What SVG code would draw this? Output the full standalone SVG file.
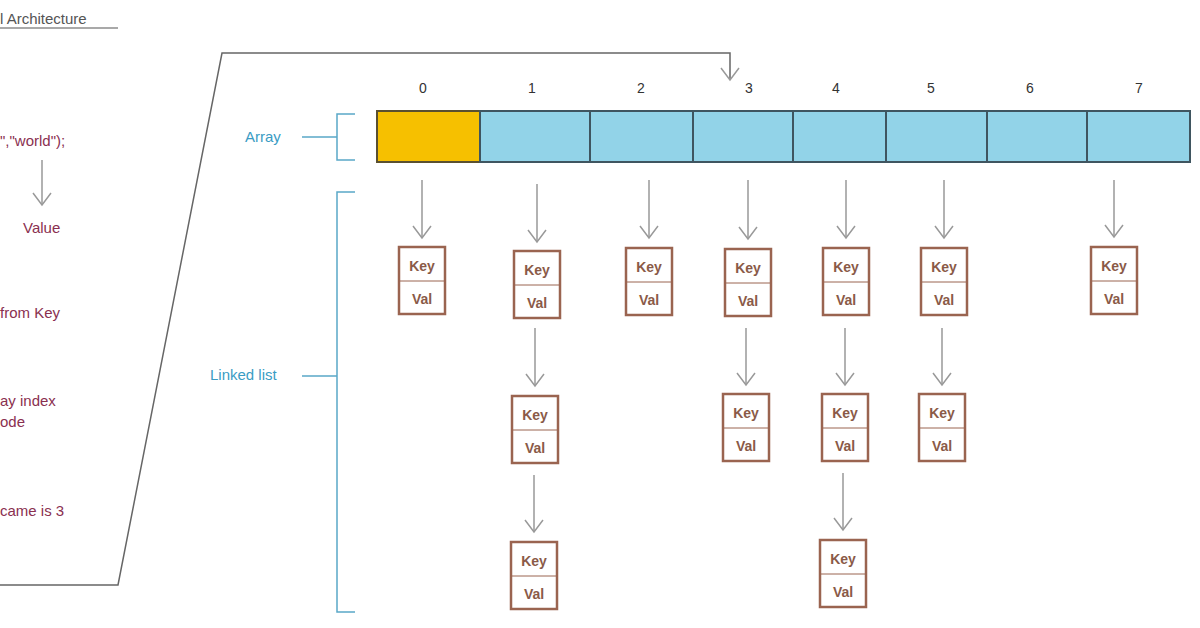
<svg xmlns="http://www.w3.org/2000/svg" width="1200" height="628" viewBox="0 0 1200 628">
<defs>
<style>
.t{font-family:"Liberation Sans",Arial,sans-serif}
.l{fill:#8a3050;font-size:15px}
.b{fill:#3a9cc4;font-size:15px}
.n{fill:#333;font-size:14px;text-anchor:middle}
.cell{fill:#92d3e8;stroke:#3f5560;stroke-width:2}
.nb{fill:#fff;stroke:#9a6450;stroke-width:2.5}
.nt{fill:#8a5a48;font-size:14px;text-anchor:middle;font-weight:bold}
.ar{stroke:#999;stroke-width:1.5;fill:none}
.br{stroke:#5aa8c8;stroke-width:1.5;fill:none}
</style>
<marker id="v" viewBox="0 0 20 20" refX="18" refY="10" markerWidth="20" markerHeight="20" markerUnits="userSpaceOnUse" orient="auto">
<path d="M6 1 L18 10 L6 19" fill="none" stroke="#999" stroke-width="1.5"/>
</marker>
</defs>
<rect width="1200" height="628" fill="#fff"/>
<g class="t">
<text x="0" y="24" font-size="15" fill="#555">l Architecture</text>
<line x1="0" y1="28" x2="118" y2="28" stroke="#555" stroke-width="1.2"/>
<text class="l" x="0" y="146">","world");</text>
<text class="l" x="23" y="233">Value</text>
<text class="l" x="0" y="318">from Key</text>
<text class="l" x="0" y="406">ay index</text>
<text class="l" x="0" y="427">ode</text>
<text class="l" x="0" y="516">came is 3</text>
<text class="b" x="245" y="142">Array</text>
<text class="b" x="210" y="380">Linked list</text>
</g>
<g id="connectors">
<line class="ar" x1="42" y1="160" x2="42" y2="205" marker-end="url(#v)"/>
<polyline points="0,585 118,585 222,53 730,53 730,80" fill="none" stroke="#666" stroke-width="1.5" marker-end="url(#v)"/>
<path class="br" d="M302 137H337M355 114H337V160H355M302 376H337M355 192H337V612H355"/>
<g>
<line class="ar" x1="422" y1="180" x2="422" y2="238" marker-end="url(#v)"/>
<line class="ar" x1="537" y1="184" x2="537" y2="242" marker-end="url(#v)"/>
<line class="ar" x1="649" y1="180" x2="649" y2="238" marker-end="url(#v)"/>
<line class="ar" x1="748" y1="180" x2="748" y2="239" marker-end="url(#v)"/>
<line class="ar" x1="846" y1="180" x2="846" y2="238" marker-end="url(#v)"/>
<line class="ar" x1="944" y1="180" x2="944" y2="238" marker-end="url(#v)"/>
<line class="ar" x1="1114" y1="180" x2="1114" y2="237" marker-end="url(#v)"/>
<line class="ar" x1="535" y1="328" x2="535" y2="386" marker-end="url(#v)"/>
<line class="ar" x1="746" y1="328" x2="746" y2="385" marker-end="url(#v)"/>
<line class="ar" x1="845" y1="328" x2="845" y2="385" marker-end="url(#v)"/>
<line class="ar" x1="942" y1="328" x2="942" y2="385" marker-end="url(#v)"/>
<line class="ar" x1="534" y1="475" x2="534" y2="532" marker-end="url(#v)"/>
<line class="ar" x1="843" y1="473" x2="843" y2="530" marker-end="url(#v)"/>
</g>
</g>
<g id="array" class="t">
<rect x="377" y="111" width="103" height="51" fill="#f6c000" stroke="#5a5030" stroke-width="2"/>
<rect class="cell" x="480" y="111" width="110" height="51"/>
<rect class="cell" x="590" y="111" width="103" height="51"/>
<rect class="cell" x="693" y="111" width="100" height="51"/>
<rect class="cell" x="793" y="111" width="93" height="51"/>
<rect class="cell" x="886" y="111" width="101" height="51"/>
<rect class="cell" x="987" y="111" width="100" height="51"/>
<rect class="cell" x="1087" y="111" width="103" height="51"/>
<text class="n" x="423" y="93">0</text>
<text class="n" x="532" y="93">1</text>
<text class="n" x="641" y="93">2</text>
<text class="n" x="749" y="93">3</text>
<text class="n" x="836" y="93">4</text>
<text class="n" x="931" y="93">5</text>
<text class="n" x="1030" y="93">6</text>
<text class="n" x="1139" y="93">7</text>
</g>
<g class="t">
<g id="n0"><rect class="nb" x="399" y="247" width="46" height="67"/><line x1="399" y1="281" x2="445" y2="281" stroke="#9a6450"/><text class="nt" x="422" y="271">Key</text><text class="nt" x="422" y="304">Val</text></g>
<g id="n1"><rect class="nb" x="514" y="251" width="46" height="67"/><line x1="514" y1="285" x2="560" y2="285" stroke="#9a6450"/><text class="nt" x="537" y="275">Key</text><text class="nt" x="537" y="308">Val</text></g>
<g id="n2"><rect class="nb" x="626" y="248" width="46" height="67"/><line x1="626" y1="282" x2="672" y2="282" stroke="#9a6450"/><text class="nt" x="649" y="272">Key</text><text class="nt" x="649" y="305">Val</text></g>
<g id="n3"><rect class="nb" x="725" y="249" width="46" height="67"/><line x1="725" y1="283" x2="771" y2="283" stroke="#9a6450"/><text class="nt" x="748" y="273">Key</text><text class="nt" x="748" y="306">Val</text></g>
<g id="n4"><rect class="nb" x="823" y="248" width="46" height="67"/><line x1="823" y1="282" x2="869" y2="282" stroke="#9a6450"/><text class="nt" x="846" y="272">Key</text><text class="nt" x="846" y="305">Val</text></g>
<g id="n5"><rect class="nb" x="921" y="248" width="46" height="67"/><line x1="921" y1="282" x2="967" y2="282" stroke="#9a6450"/><text class="nt" x="944" y="272">Key</text><text class="nt" x="944" y="305">Val</text></g>
<g id="n7"><rect class="nb" x="1091" y="247" width="46" height="67"/><line x1="1091" y1="281" x2="1137" y2="281" stroke="#9a6450"/><text class="nt" x="1114" y="271">Key</text><text class="nt" x="1114" y="304">Val</text></g>
<g id="n1b"><rect class="nb" x="512" y="396" width="46" height="67"/><line x1="512" y1="430" x2="558" y2="430" stroke="#9a6450"/><text class="nt" x="535" y="420">Key</text><text class="nt" x="535" y="453">Val</text></g>
<g id="n3b"><rect class="nb" x="723" y="394" width="46" height="67"/><line x1="723" y1="428" x2="769" y2="428" stroke="#9a6450"/><text class="nt" x="746" y="418">Key</text><text class="nt" x="746" y="451">Val</text></g>
<g id="n4b"><rect class="nb" x="822" y="394" width="46" height="67"/><line x1="822" y1="428" x2="868" y2="428" stroke="#9a6450"/><text class="nt" x="845" y="418">Key</text><text class="nt" x="845" y="451">Val</text></g>
<g id="n5b"><rect class="nb" x="919" y="394" width="46" height="67"/><line x1="919" y1="428" x2="965" y2="428" stroke="#9a6450"/><text class="nt" x="942" y="418">Key</text><text class="nt" x="942" y="451">Val</text></g>
<g id="n1c"><rect class="nb" x="511" y="542" width="46" height="67"/><line x1="511" y1="576" x2="557" y2="576" stroke="#9a6450"/><text class="nt" x="534" y="566">Key</text><text class="nt" x="534" y="599">Val</text></g>
<g id="n4c"><rect class="nb" x="820" y="540" width="46" height="67"/><line x1="820" y1="574" x2="866" y2="574" stroke="#9a6450"/><text class="nt" x="843" y="564">Key</text><text class="nt" x="843" y="597">Val</text></g>
</g>
</svg>
